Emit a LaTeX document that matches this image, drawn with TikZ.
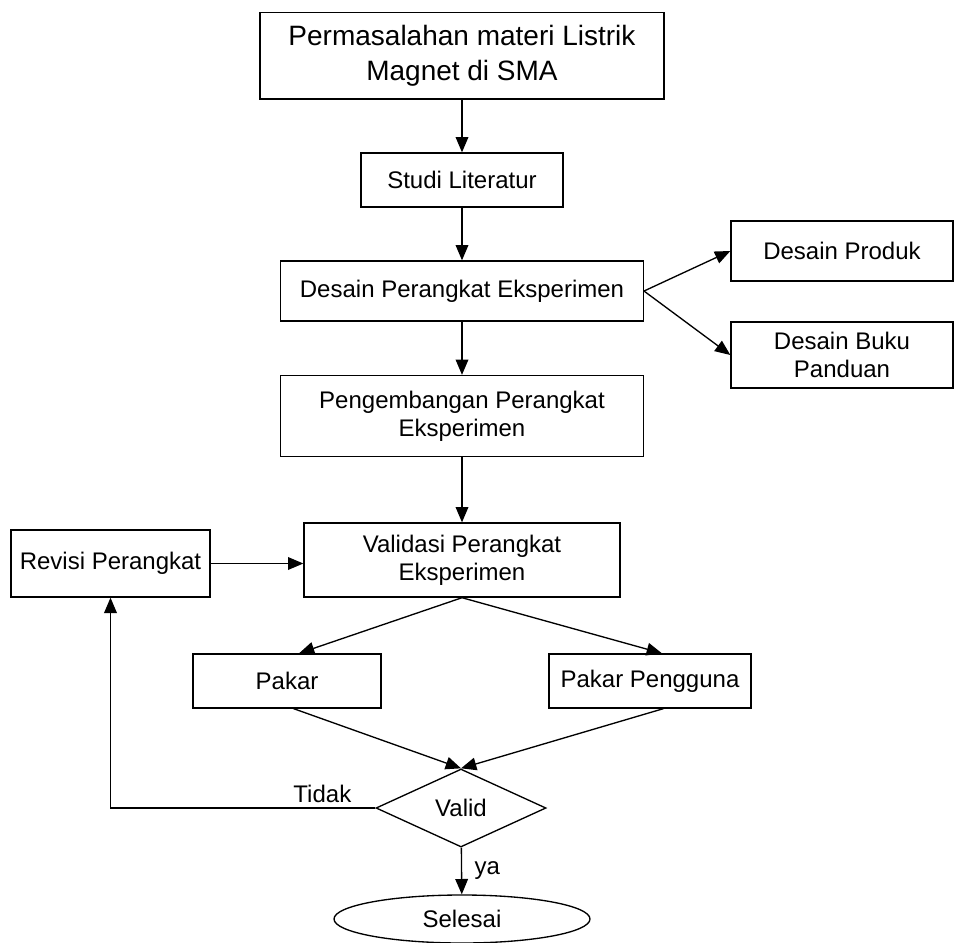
\documentclass[tikz,border=0pt]{standalone}
\usepackage{fontspec}
\setmainfont{Liberation Sans}
\usetikzlibrary{shapes.geometric,arrows.meta}

\begin{document}
\begin{tikzpicture}[x=0.75pt, y=-0.75pt, node distance=2cm, line width=1pt,
                    >={Triangle[length=11.5pt,width=9.5pt]},
                    main node/.style={rectangle,draw,align=center,inner sep=0pt,font=\fontsize{18}{21}\selectfont}]

  \useasboundingbox (0,0) rectangle (954,943);

  \node[main node,minimum width=303pt,minimum height=65pt,font=\fontsize{21}{26}\selectfont] (1) at (462,55.5) {Permasalahan materi Listrik\\Magnet di SMA};
  \node[main node,minimum width=151.5pt,minimum height=40.5pt] (2) [below of=1, node distance=93.4pt] {Studi Literatur};
    \node[main node,minimum width=272pt,minimum height=45pt] (3) [below of=2, node distance=83.25pt] {Desain Perangkat Eksperimen};
      \node[main node,minimum width=166.5pt,minimum height=45pt] (4) at (842,251) {Desain Produk};
      \node[main node,minimum width=166.5pt,minimum height=49.5pt] (5) at (842,355) {Desain Buku\\Panduan};
    \node[main node,minimum width=272pt,minimum height=60.75pt] (6) [below of=3, node distance=93.75pt] {Pengembangan Perangkat\\Eksperimen};
  \node[main node,minimum width=237pt,minimum height=55.5pt] (7) [below of=6, node distance=108pt] {Validasi Perangkat\\Eksperimen};
  \node[main node,minimum width=149.25pt,minimum height=50.25pt] (8) at (110.5,563.5) {Revisi Perangkat};
    \node[main node,minimum width=141pt,minimum height=40.5pt] (9) at (287,681) {Pakar};
    \node[main node,minimum width=151.5pt,minimum height=40.5pt] (10) at (650,681) {Pakar Pengguna};
  \node[main node,diamond,aspect=2,minimum width=127.5pt,minimum height=58.5pt] (11) at (461,808) {Valid};
  \node[main node,ellipse,minimum width=192pt,minimum height=36pt] (12) at (462,919) {Selesai};

\path[->,every node/.style={font=\fontsize{18}{21}\selectfont}]
    (1) edge (2)
    (2) edge (3)
    (3) edge (6)
    (6) edge (7)

    (3.east) edge (4.west)
    (3.east) edge (5.west)
    (8.east) edge (8.east -| 7.west)

    (7.south) edge ([xshift=9pt]9.north)
    (7.south) edge ([xshift=9pt]10.north)
    ([xshift=5pt]9.south) edge (11.north)
    ([xshift=10pt]10.south) edge (11.north)
    (11) edge node [right=6pt] {ya} (12);

\draw[->] (11.west) -| node [above, pos=0.1, font=\fontsize{18}{21}\selectfont] {Tidak} (8.south);

\end{tikzpicture}
\end{document}
